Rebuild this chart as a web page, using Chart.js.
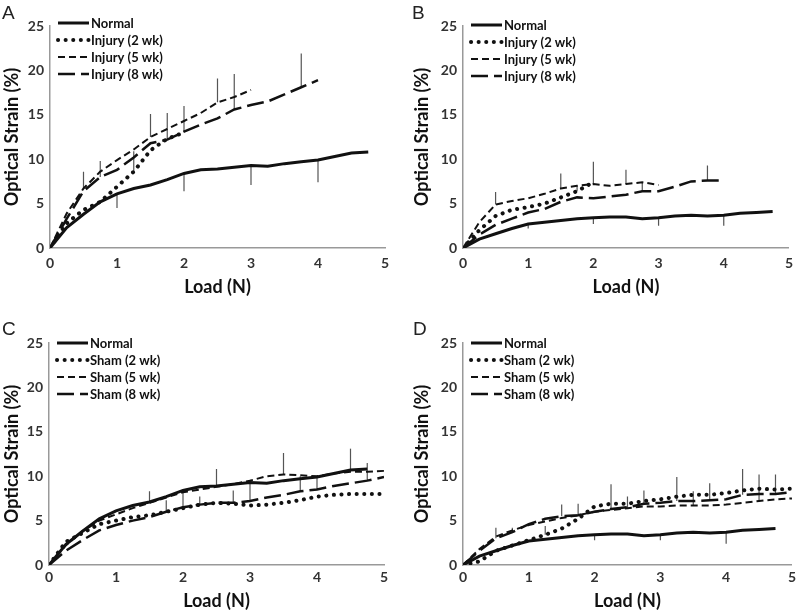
<!DOCTYPE html>
<html>
<head>
<meta charset="utf-8">
<script src="https://cdn.jsdelivr.net/npm/chart.js@4.4.0/dist/chart.umd.min.js"></script>
<style>
  body { margin: 0; background: #fff; width: 800px; height: 610px; position: relative; overflow: hidden; }
  .panel { position: absolute; }
  .tag { position: absolute; font: 19px "Liberation Sans", Arial, sans-serif; color: #222; }
</style>
</head>
<body>
<div class="panel" style="left:0;top:0"><canvas id="cA" width="400" height="300"></canvas></div>
<div class="panel" style="left:400px;top:0"><canvas id="cB" width="400" height="300"></canvas></div>
<div class="panel" style="left:0;top:300px"><canvas id="cC" width="400" height="310"></canvas></div>
<div class="panel" style="left:400px;top:300px"><canvas id="cD" width="400" height="310"></canvas></div>
<div class="tag" style="left:2px;top:2px">A</div>
<div class="tag" style="left:412px;top:2px">B</div>
<div class="tag" style="left:2px;top:318px">C</div>
<div class="tag" style="left:413px;top:318px">D</div>
<script>
// load steps (N)
const loads = [0, 0.25, 0.5, 0.75, 1, 1.25, 1.5, 1.75, 2, 2.25, 2.5, 2.75, 3, 3.25, 3.5, 3.75, 4, 4.25, 4.5, 4.75, 5];

// panel A / C normal
const normalA = [0, 2.3, 3.8, 5.2, 6.1, 6.7, 7.1, 7.7, 8.4, 8.8, 8.9, 9.1, 9.3, 9.2, 9.5, 9.7, 9.9, 10.3, 10.7, 10.8];
const injury2A = [0, 2.8, 4.3, 5.2, 6.9, 8.6, 11.0, 12.3, 13.0];
const injury5A = [0, 3.9, 6.7, 8.6, 9.9, 11.1, 12.5, 13.4, 14.3, 15.2, 16.4, 17.0, 17.8];
const injury8A = [0, 3.3, 6.4, 8.0, 8.8, 10.2, 11.8, 12.2, 13.1, 13.9, 14.6, 15.6, 16.1, 16.5, 17.3, 18.1, 18.9];

// panel B / D normal
const normalB = [0, 1.0, 1.6, 2.2, 2.7, 2.9, 3.1, 3.3, 3.4, 3.5, 3.5, 3.3, 3.4, 3.6, 3.7, 3.6, 3.7, 3.9, 4.0, 4.1];
const injury2B = [0, 2.0, 3.6, 4.3, 4.6, 5.0, 5.7, 6.4, 7.4];
const injury5B = [0, 2.9, 4.9, 5.3, 5.6, 6.1, 6.7, 7.0, 7.2, 7.0, 7.2, 7.4, 7.1];
const injury8B = [0, 1.5, 2.6, 3.3, 4.0, 4.4, 5.2, 5.7, 5.6, 5.8, 6.0, 6.4, 6.4, 6.9, 7.5, 7.6, 7.6];

const sham2C = [0, 2.6, 3.6, 4.6, 5.0, 5.4, 5.6, 6.0, 6.4, 6.8, 7.0, 6.9, 6.7, 6.8, 7.0, 7.3, 7.7, 7.9, 8.0, 8.0, 8.0];
const sham5C = [0, 2.2, 3.8, 5.0, 5.7, 6.4, 7.0, 7.6, 8.2, 8.5, 8.8, 9.1, 9.5, 10.0, 10.2, 10.1, 10.0, 10.3, 10.5, 10.5, 10.6];
const sham8C = [0, 1.6, 2.8, 3.9, 4.5, 5.0, 5.4, 6.0, 6.5, 6.8, 7.0, 7.0, 7.2, 7.6, 7.9, 8.3, 8.5, 8.9, 9.2, 9.5, 9.9];

const sham2D = [0, 0.4, 1.6, 2.2, 2.8, 3.4, 4.1, 5.2, 6.6, 6.9, 6.9, 7.2, 7.4, 7.7, 7.9, 7.9, 8.1, 8.4, 8.6, 8.5, 8.6];
const sham5D = [0, 1.8, 3.2, 3.9, 4.5, 4.9, 5.3, 5.6, 6.0, 6.2, 6.4, 6.6, 6.6, 6.7, 6.7, 6.7, 6.8, 7.0, 7.2, 7.4, 7.5];
const sham8D = [0, 1.6, 3.0, 3.7, 4.6, 5.2, 5.5, 5.6, 6.0, 6.3, 6.5, 6.9, 7.0, 7.2, 7.2, 7.3, 7.4, 7.9, 8.0, 8.0, 8.2];

// one-sided error bars: [load, signed SD]
const errNormalA = [[1, -1.6], [2, -2.0], [3, -2.2], [4, -2.5]];
const errInjury2A = [[1.25, 2.3]];
const errInjury5A = [[0.5, 1.9], [1.5, 2.6], [2.5, 2.7]];
const errInjury8A = [[0.75, 1.8], [1.75, 3.0], [2, 2.9], [2.75, 4.0], [3.75, 3.8]];

const errNormalB = [[1, -0.5], [2, -0.7], [3, -0.9], [4, -1.2]];
const errInjury2B = [[1.75, 0.6]];
const errInjury5B = [[0.5, 1.4], [1.5, 1.7], [2, 2.5], [2.5, 1.6]];
const errInjury8B = [[2.75, 1.0], [3.75, 1.7]];

const errNormalC = [[4.5, 2.4]];
const errSham2C = [[2.25, 0.9]];
const errSham5C = [[1.5, 1.3], [2.5, 2.0], [3.5, 2.4]];
const errSham8C = [[1.75, 1.3], [2, 2.0], [2.75, 1.4], [3, 2.4], [3.75, 1.7], [4, 1.5], [4.75, 2.0]];

const errNormalD = [[2, -0.6], [3, -0.6], [4, -1.3]];
const errSham2D = [[1.25, 1.0]];
const errSham5D = [[2.5, 1.3], [3.5, 1.6], [4.5, 3.0]];
const errSham8D = [[0.5, 1.2], [0.75, 0.5], [1.5, 1.3], [1.75, 1.3], [2.25, 2.8], [2.75, 1.5], [3.25, 2.7], [3.75, 1.9], [4.25, 2.9], [4.75, 2.2]];

const xTicks = [0, 1, 2, 3, 4, 5];
const yTicks = [0, 5, 10, 15, 20, 25];

const FONT = "Lato, 'Open Sans', sans-serif";

const styles = [
  { borderWidth: 3, borderDash: [], borderCapStyle: 'butt' },
  { borderWidth: 4, borderDash: [0.1, 7.5], borderCapStyle: 'round' },
  { borderWidth: 2, borderDash: [7, 4], borderCapStyle: 'butt' },
  { borderWidth: 2.5, borderDash: [17, 6], borderCapStyle: 'butt' }
];

const pts = vals => vals.map((v, i) => ({ x: loads[i], y: v }));

const errPts = (vals, errs) => {
  const out = [];
  errs.forEach(([x, e]) => {
    const y0 = vals[loads.indexOf(x)];
    out.push({ x: x, y: y0 }, { x: x, y: y0 + e }, { x: x, y: null });
  });
  return out;
};

const innerLegend = {
  id: 'innerLegend',
  afterDraw(chart, args, opts) {
    const ctx = chart.ctx;
    const a = chart.chartArea;
    ctx.save();
    ctx.font = "bold 13px " + FONT;
    ctx.textBaseline = 'middle';
    ctx.fillStyle = '#111';
    chart.data.datasets.filter(d => d.label).forEach((d, i) => {
      const y = a.top + opts.top + i * 17;
      ctx.strokeStyle = '#111';
      ctx.lineWidth = d.borderWidth;
      ctx.lineCap = d.borderCapStyle;
      ctx.setLineDash(d.borderDash);
      ctx.beginPath();
      ctx.moveTo(a.left + 8, y);
      ctx.lineTo(a.left + 39, y);
      ctx.stroke();
      ctx.setLineDash([]);
      ctx.fillText(d.label, a.left + 41, y + 1);
    });
    ctx.restore();
  }
};

function makePanel(id, labels, series, errs, box) {
  const datasets = [];
  errs.forEach((e, k) => {
    datasets.push({
      data: errPts(series[k], e),
      borderColor: '#555',
      borderWidth: 1.2,
      pointRadius: 0,
      showLine: true,
      spanGaps: false,
      order: 2
    });
  });
  series.forEach((vals, k) => {
    datasets.push(Object.assign({
      label: labels[k],
      data: pts(vals),
      borderColor: '#111',
      pointRadius: 0,
      showLine: true,
      tension: 0,
      order: 1
    }, styles[k]));
  });

  new Chart(document.getElementById(id), {
    type: 'scatter',
    data: { datasets: datasets },
    plugins: [innerLegend],
    options: {
      responsive: false,
      animation: false,
      devicePixelRatio: 1,
      layout: { padding: { left: box.padLeft, top: box.padTop, right: box.padRight, bottom: 0 } },
      plugins: {
        legend: { display: false },
        tooltip: { enabled: false },
        innerLegend: { top: box.legendTop }
      },
      scales: {
        x: {
          type: 'linear', min: 0, max: 5,
          afterBuildTicks: s => { s.ticks = xTicks.map(v => ({ value: v })); },
          afterFit: s => { s.height = box.xHeight; },
          grid: { display: false, drawTicks: false },
          border: { display: true, color: '#999', width: 1.5 },
          ticks: { padding: box.xTickPad, color: '#333', font: { family: FONT, size: 14, weight: 'bold' } },
          title: { display: true, text: 'Load (N)', color: '#111', padding: { top: 0, bottom: box.xTitlePad }, font: { family: FONT, size: 18, weight: 'bold' } }
        },
        y: {
          type: 'linear', min: 0, max: 25,
          afterBuildTicks: s => { s.ticks = yTicks.map(v => ({ value: v })); },
          afterFit: s => { s.width = box.yWidth; },
          grid: { display: false, drawTicks: false },
          border: { display: true, color: '#999', width: 1.5 },
          ticks: { padding: 6, color: '#333', font: { family: FONT, size: 14, weight: 'bold' } },
          title: { display: true, text: 'Optical Strain (%)', color: '#111', padding: { top: 1, bottom: 0 }, font: { family: FONT, size: 18, weight: 'bold' } }
        }
      }
    }
  });
}

const injuryLabels = ['Normal', 'Injury (2 wk)', 'Injury (5 wk)', 'Injury (8 wk)'];
const shamLabels = ['Normal', 'Sham (2 wk)', 'Sham (5 wk)', 'Sham (8 wk)'];

makePanel('cA', injuryLabels, [normalA, injury2A, injury5A, injury8A],
  [errNormalA, errInjury2A, errInjury5A, errInjury8A],
  { padLeft: 0, padTop: 26, padRight: 15, yWidth: 50, xHeight: 52, xTickPad: 7, xTitlePad: 2, legendTop: -3 });
makePanel('cB', injuryLabels, [normalB, injury2B, injury5B, injury8B],
  [errNormalB, errInjury2B, errInjury5B, errInjury8B],
  { padLeft: 10, padTop: 26, padRight: 5, yWidth: 53, xHeight: 52, xTickPad: 7, xTitlePad: 2, legendTop: -1 });
makePanel('cC', shamLabels, [normalA, sham2C, sham5C, sham8C],
  [errNormalC, errSham2C, errSham5C, errSham8C],
  { padLeft: 0, padTop: 43, padRight: 16, yWidth: 49, xHeight: 45, xTickPad: 4, xTitlePad: -2, legendTop: 0 });
makePanel('cD', shamLabels, [normalB, sham2D, sham5D, sham8D],
  [errNormalD, errSham2D, errSham5D, errSham8D],
  { padLeft: 10, padTop: 43, padRight: 5, yWidth: 53, xHeight: 45, xTickPad: 4, xTitlePad: -2, legendTop: 0 });
</script>
</body>
</html>
